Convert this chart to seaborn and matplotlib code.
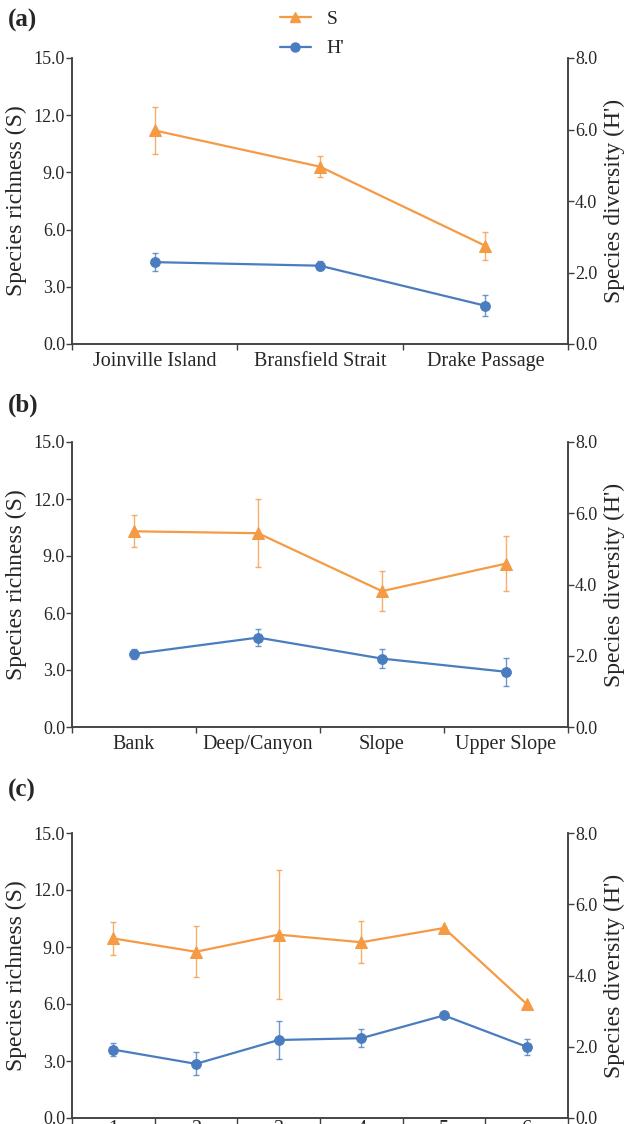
import numpy as np
import pandas as pd
import matplotlib
matplotlib.use('Agg')
import matplotlib.pyplot as plt
import seaborn as sns
from matplotlib.lines import Line2D

# Data
cats_a = ['Joinville Island', 'Bransfield Strait', 'Drake Passage']
s_a = [11.2, 9.3, 5.15]
s_err_a = [1.25, 0.55, 0.75]
h_a = [2.29, 2.19, 1.07]
h_err_a = [0.25, 0.12, 0.30]

cats_b = ['Bank', 'Deep/Canyon', 'Slope', 'Upper Slope']
s_b = [10.3, 10.2, 7.15, 8.6]
s_err_b = [0.85, 1.8, 1.05, 1.45]
h_b = [2.05, 2.51, 1.92, 1.55]
h_err_b = [0.13, 0.24, 0.27, 0.40]

cats_c = ['1', '2', '3', '4', '5', '6']
s_c = [9.45, 8.75, 9.65, 9.25, 10.0, 6.0]
s_err_c = [0.85, 1.35, 3.4, 1.1, 0.0, 0.0]
h_c = [1.92, 1.52, 2.19, 2.24, 2.88, 2.0]
h_err_c = [0.19, 0.32, 0.52, 0.25, 0.0, 0.22]

panels = [('(a)', cats_a, s_a, s_err_a, h_a, h_err_a),
          ('(b)', cats_b, s_b, s_err_b, h_b, h_err_b),
          ('(c)', cats_c, s_c, s_err_c, h_c, h_err_c)]

sns.set_style('white')
plt.rcParams['font.family'] = ['Liberation Serif', 'DejaVu Serif']

orange = '#F59A45'
blue = '#4A7DC0'
spine_col = '#404040'

W, H = 629, 1124
fig = plt.figure(figsize=(W / 100, H / 100), dpi=100)

# axes positions in pixels: (top of 15.0, bottom 0.0)
ax_px = [(58, 344), (442, 727), (833, 1118)]
label_y = [20, 405, 790]
xlab_pad = [6, 6, 1.5]
left_px, right_px = 72, 568


def style_axis(ax):
    for sp in ['left', 'bottom', 'right']:
        ax.spines[sp].set_color(spine_col)
        ax.spines[sp].set_linewidth(1.1)
    ax.spines['top'].set_visible(False)


for i, (lab, cats, s, s_err, h, h_err) in enumerate(panels):
    top, bot = ax_px[i]
    ax = fig.add_axes([left_px / W, 1 - bot / H, (right_px - left_px) / W, (bot - top) / H])
    ax2 = ax.twinx()
    n = len(cats)
    x = np.arange(n)
    df = pd.DataFrame({'x': x, 'S': s, 'H': h})

    ax.errorbar(x, s, yerr=s_err, fmt='none', ecolor=orange, elinewidth=1.0,
                capsize=2, capthick=1.0, alpha=0.8, zorder=2)
    sns.lineplot(data=df, x='x', y='S', ax=ax, color=orange, marker='^',
                 markersize=8, markeredgecolor=orange, linewidth=1.6, zorder=3)
    ax2.errorbar(x, h, yerr=h_err, fmt='none', ecolor=blue, elinewidth=1.0,
                 capsize=2, capthick=1.0, alpha=0.8, zorder=2)
    sns.lineplot(data=df, x='x', y='H', ax=ax2, color=blue, marker='o',
                 markersize=7, markeredgecolor=blue, linewidth=1.6, zorder=3)

    ax.set_xlim(-0.5, n - 0.5)
    ax.set_ylim(0, 15)
    ax2.set_ylim(0, 8)
    ax.set_yticks(np.arange(0, 15.1, 3))
    ax.set_yticklabels([f'{v:.1f}' for v in np.arange(0, 15.1, 3)])
    ax2.set_yticks(np.arange(0, 8.1, 2))
    ax2.set_yticklabels([f'{v:.1f}' for v in np.arange(0, 8.1, 2)])

    # category boundaries as ticks, labels at centres
    ax.set_xticks(np.arange(-0.5, n, 1.0))
    ax.set_xticklabels([])
    ax.set_xticks(x, minor=True)
    ax.set_xticklabels(cats, minor=True, fontsize=14.5)
    ax.tick_params(axis='x', which='major', direction='out', length=4,
                   width=1.0, color=spine_col, bottom=True)
    ax.tick_params(axis='x', which='minor', length=0, pad=xlab_pad[i], bottom=True)
    ax.tick_params(axis='y', direction='out', length=4, width=1.0,
                   color=spine_col, labelsize=13, pad=1, left=True)
    ax2.tick_params(axis='y', direction='out', length=4, width=1.0,
                    color=spine_col, labelsize=13, pad=1, right=True)

    ax.set_xlabel('')
    ax.set_ylabel('Species richness (S)', fontsize=17, labelpad=5)
    ax2.set_ylabel("Species diversity (H')", fontsize=17, labelpad=5)
    style_axis(ax)
    style_axis(ax2)

    fig.text(8 / W, 1 - label_y[i] / H, lab, fontsize=18, fontweight='bold',
             ha='left', va='center')

# legend at top centre
handles = [Line2D([], [], color=orange, marker='^', markersize=7, linewidth=1.6),
           Line2D([], [], color=blue, marker='o', markersize=6.5, linewidth=1.6)]
fig.legend(handles, ['S', "H'"], loc='center', bbox_to_anchor=(312 / W, 1 - 34 / H),
           frameon=False, fontsize=14, handlelength=1.6, labelspacing=0.6,
           handletextpad=0.8)

fig.savefig('out.png', dpi=100)
